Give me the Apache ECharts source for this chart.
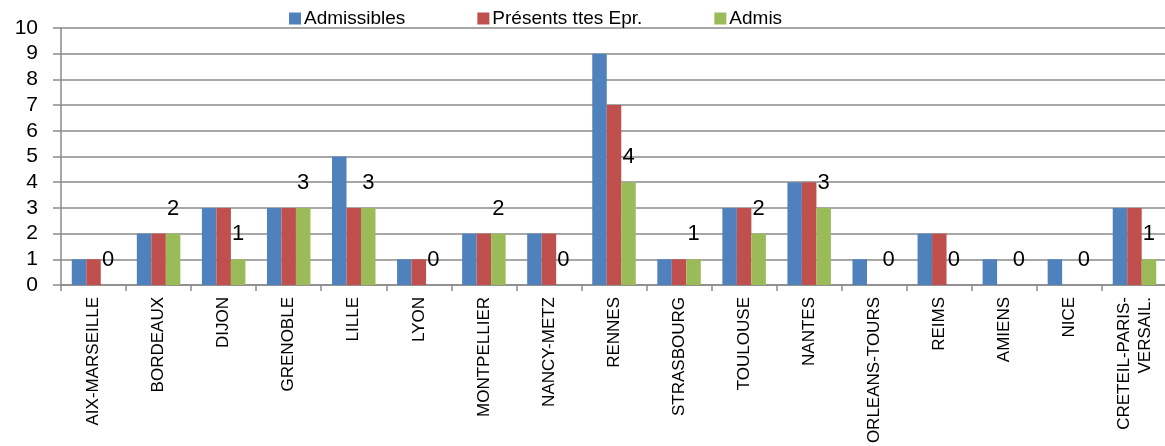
<!DOCTYPE html>
<html>
<head>
<meta charset="utf-8">
<script src="https://cdn.jsdelivr.net/npm/echarts@6/dist/echarts.min.js"></script>
<style>html,body{margin:0;padding:0;background:#fff;}#c{width:1165px;height:446px;}</style>
</head>
<body>
<div id="c"></div>
<script>
const categories = ["AIX-MARSEILLE","BORDEAUX","DIJON","GRENOBLE","LILLE","LYON","MONTPELLIER","NANCY-METZ","RENNES","STRASBOURG","TOULOUSE","NANTES","ORLEANS-TOURS","REIMS","AMIENS","NICE","CRETEIL-PARIS-\nVERSAIL."];
const admissibles = [1,2,3,3,5,1,2,2,9,1,3,4,1,2,1,1,3];
const presents    = [1,2,3,3,3,1,2,2,7,1,3,4,0,2,0,0,3];
const admis       = [0,2,1,3,3,0,2,0,4,1,2,3,0,0,0,0,1];
const seriesNames = ["Admissibles","Présents ttes Epr.","Admis"];
const yTicks = [0,1,2,3,4,5,6,7,8,9,10];

const chart = echarts.init(document.getElementById('c'), null, {renderer:'canvas'});
const font = '"Liberation Sans", Arial, sans-serif';
chart.setOption({
  animation:false,
  color:['#4F81BD','#C0504D','#9BBB59'],
  legend:{
    top:4, left:284,
    itemWidth:12, itemHeight:12, itemGap:72,
    icon:'rect',
    textStyle:{fontFamily:font, fontSize:19, color:'#000', padding:[0,0,0,-2]},
    data:seriesNames
  },
  grid:{left:61, top:28, bottom:161, width:1106, containLabel:false, outerBoundsMode:'none'},
  xAxis:{
    type:'category', data:categories,
    axisLine:{lineStyle:{color:'#8a8a8a', width:1.5}},
    axisTick:{show:true, length:6, lineStyle:{color:'#8a8a8a', width:1.5}},
    axisLabel:{rotate:90, interval:0, margin:12, fontFamily:font, fontSize:17, color:'#000', lineHeight:21}
  },
  yAxis:{
    type:'value', min:yTicks[0], max:yTicks[yTicks.length-1], interval:1,
    axisLine:{show:true, lineStyle:{color:'#8a8a8a', width:1.5}},
    axisTick:{show:true, length:8, lineStyle:{color:'#8a8a8a', width:1.5}},
    splitLine:{lineStyle:{color:'#8a8a8a', width:1.5}},
    axisLabel:{margin:23, fontFamily:font, fontSize:21, color:'#000'}
  },
  series:[
    {name:seriesNames[0], type:'bar', data:admissibles, barWidth:14.5, barGap:'0%'},
    {name:seriesNames[1], type:'bar', data:presents, barWidth:14.5, barGap:'0%'},
    {name:seriesNames[2], type:'bar', data:admis, barWidth:14.5, barGap:'0%',
      label:{show:true, position:'top', distance:14, fontFamily:font, fontSize:22, color:'#000'}}
  ]
});
</script>
</body>
</html>
